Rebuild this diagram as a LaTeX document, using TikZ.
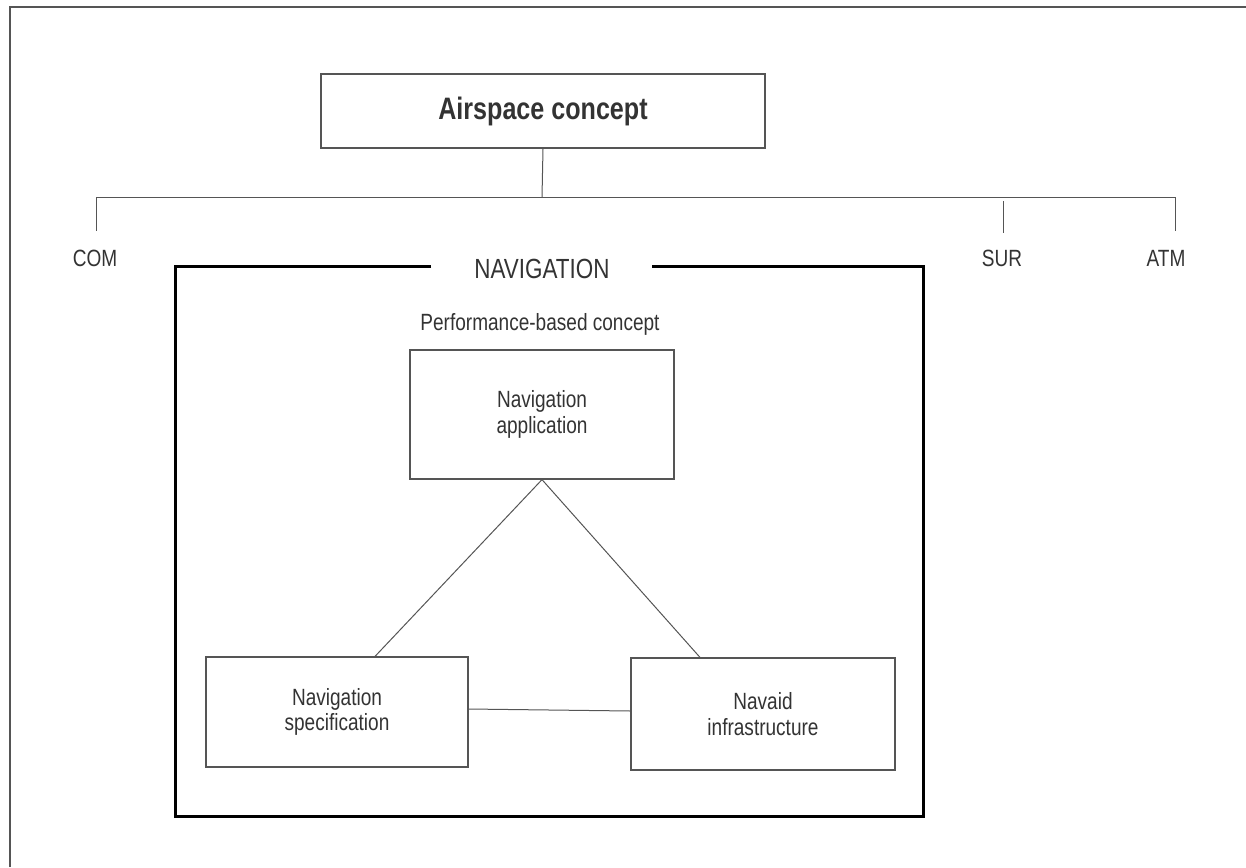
\documentclass[tikz,border=0pt]{standalone}
\usepackage{fontspec}
\setmainfont{Liberation Sans}[FakeStretch=0.81]
\usetikzlibrary{calc}
\definecolor{txt}{HTML}{333333}
\definecolor{ln}{HTML}{555555}
\begin{document}
\begin{tikzpicture}[x=1pt,y=-1pt,
  thinline/.style={draw=ln, line width=1pt},
  boxnode/.style={draw=ln, line width=1.2pt, text=txt, align=center, inner sep=0pt,
     font=\fontsize{23.5}{25.5}\selectfont},
  lbl/.style={text=txt, inner sep=0pt, font=\fontsize{23.5}{25.5}\selectfont}]
\useasboundingbox (0,0) rectangle (1246,867);
% page frame
\draw[draw=ln, line width=1.6pt] (10,867) -- (10,7) -- (1246,7);
% top box
\node[boxnode, minimum width=444pt, minimum height=74pt,
      font=\fontsize{31}{34}\selectfont\bfseries] (top) at (543,111) {Airspace concept};
\coordinate (hb) at (542,197);
\coordinate (hl) at (96,197);
\coordinate (hr) at (1175,197);
\coordinate (comtick) at (96,231);
\coordinate (surtop) at (1003,201);
\coordinate (surtick) at (1003,233);
\coordinate (atmtick) at (1175,231);
\draw[thinline] (top.south) -- (hb);
\draw[thinline] (hl) -- (hr);
\draw[thinline] (hl) -- (comtick);
\draw[thinline] (surtop) -- (surtick);
\draw[thinline] (hr) -- (atmtick);
\node[lbl] (com) at (95,258) {COM};
\node[lbl] (sur) at (1002,258) {SUR};
\node[lbl] (atm) at (1166,258) {ATM};
% navigation frame
\node[lbl, font=\fontsize{27.7}{30}\selectfont] (nav) at (542,269) {NAVIGATION};
\coordinate (fl) at (431,266);
\coordinate (fr) at (652,266);
\draw[line width=3pt, line join=miter] (fl) -- (175,266) -- (175,816) -- (923,816) -- (923,266) -- (fr);
\node[lbl] (perf) at (540,324) {Performance-based concept};
% inner boxes
\node[boxnode, minimum width=264pt, minimum height=129pt] (app) at (542,414.5) {Navigation\\application};
\node[boxnode, minimum width=262pt, minimum height=110pt] (spec) at (337,712) {Navigation\\specification};
\node[boxnode, minimum width=264pt, minimum height=112pt] (aid) at (763,714) {Navaid\\infrastructure};
\draw[thinline] ($(spec.north)+(38,0)$) -- (app.south) -- ($(aid.north)+(-63,0)$);
\draw[thinline] ($(spec.east)+(0,-3)$) -- ($(aid.west)+(0,-3)$);
\end{tikzpicture}
\end{document}
